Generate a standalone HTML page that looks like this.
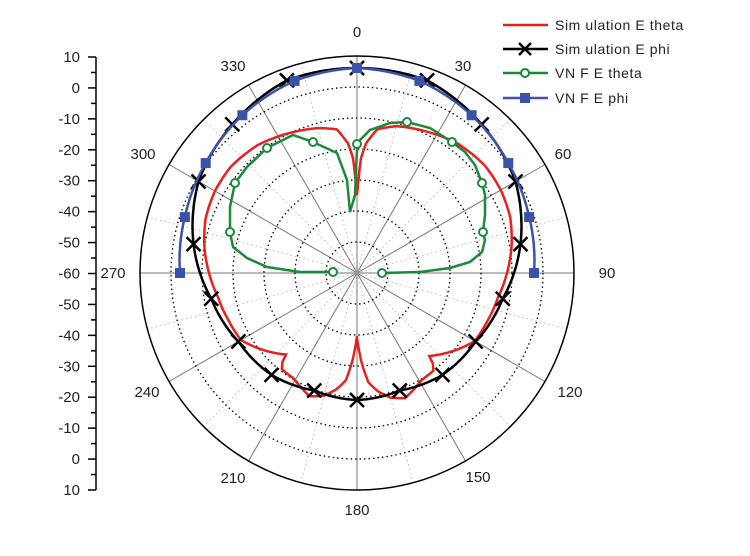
<!DOCTYPE html>
<html><head><meta charset="utf-8"><style>
html,body{margin:0;padding:0;background:#fff;}
svg{display:block;font-family:"Liberation Sans",sans-serif;}
</style></head><body>
<svg id="s" width="750" height="556" viewBox="0 0 750 556" xmlns="http://www.w3.org/2000/svg">
<g id="grid"></g>
<g id="axis" stroke="#000" stroke-width="1.5"></g>
<g id="labels" font-size="15" fill="#222"></g>
<g id="curves"></g>
<g font-size="14" fill="#222" letter-spacing="0.6">
<line x1="503" y1="25" x2="548" y2="25" stroke="#e82020" stroke-width="2.5"/>
<text x="555" y="30">Sim ulation E theta</text>
<line x1="503" y1="49" x2="548" y2="49" stroke="#000" stroke-width="2.5"/>
<path d="M519,43 L531,55 M531,43 L519,55" stroke="#000" stroke-width="2.5"/>
<text x="555" y="54">Sim ulation E phi</text>
<line x1="503" y1="73" x2="548" y2="73" stroke="#1a8a3a" stroke-width="2.5"/>
<circle cx="525" cy="73" r="4" fill="#fff" stroke="#1a8a3a" stroke-width="2"/>
<text x="555" y="78">VN F  E theta</text>
<line x1="503" y1="98" x2="548" y2="98" stroke="#3a52a8" stroke-width="2.5"/>
<rect x="520" y="93" width="10" height="10" fill="#3a52a8"/>
<text x="555" y="103">VN F  E phi</text>
</g>
</svg>
<script>
var NS="http://www.w3.org/2000/svg",cx=357,cy=273,R=217,st=R/7;
function el(p,t,a){var e=document.createElementNS(NS,t);for(var k in a)e.setAttribute(k,a[k]);p.appendChild(e);return e;}
function P(a,r){var t=a*Math.PI/180;return [cx+r*Math.sin(t),cy-r*Math.cos(t)];}
var g=document.getElementById('grid');
for(var a=0;a<360;a+=15){var p=P(a,R);
 if(a%30==0)el(g,'line',{x1:cx,y1:cy,x2:p[0],y2:p[1],stroke:'#777','stroke-width':1});
 else el(g,'line',{x1:cx,y1:cy,x2:p[0],y2:p[1],stroke:'#bbb','stroke-width':1,'stroke-dasharray':'1.5,3'});}
for(var k=1;k<7;k++)el(g,'circle',{cx:cx,cy:cy,r:k*st,fill:'none',stroke:'#000','stroke-width':1.3,'stroke-dasharray':'1.5,3'});
el(g,'circle',{cx:cx,cy:cy,r:R,fill:'none',stroke:'#000','stroke-width':1.5});
var ax=document.getElementById('axis'),lb=document.getElementById('labels');
el(ax,'line',{x1:96,y1:57,x2:96,y2:490});
var vals=[10,0,-10,-20,-30,-40,-50,-60,-50,-40,-30,-20,-10,0,10];
for(var i=0;i<15;i++){var y=57+i*st*(14/14)*1;y=57+i*(433/14);
 el(ax,'line',{x1:88,y1:y,x2:96,y2:y});
 if(i<14)el(ax,'line',{x1:91,y1:y+433/28,x2:96,y2:y+433/28});
 var t=el(lb,'text',{x:80,y:y+5,'text-anchor':'end'});t.textContent=vals[i];}
var al=[[0,357,37],[30,463,71],[60,563,159],[90,607,278],[120,570,397],[150,478,482],[180,357,515],[210,233,483],[240,147,397],[270,113,278],[300,143,159],[330,233,71]];
al.forEach(function(q){var t=el(lb,'text',{x:q[1],y:q[2],'text-anchor':'middle'});t.textContent=q[0];});
var cv=document.getElementById('curves');
function interp(tab,a){for(var i=0;i<tab.length-1;i++){if(a>=tab[i][0]&&a<=tab[i+1][0]){var f=(a-tab[i][0])/(tab[i+1][0]-tab[i][0]);return tab[i][1]+f*(tab[i+1][1]-tab[i][1]);}}return tab[tab.length-1][1];}
function mirror(tab){var o=[];for(var i=tab.length-1;i>0;i--)o.push([-tab[i][0],tab[i][1]]);return o.concat(tab);}
function polarPath(tab,a0,a1){var d='';for(var a=a0;a<=a1;a+=0.5){var p=P(a,interp(tab,a));d+=(d?'L':'M')+p[0].toFixed(1)+','+p[1].toFixed(1);}return d;}
// red
var red=[[0,78],[1,95],[2,115],[4,130],[8,145],[15,152],[25,157],[38,164],[50,167],[60,166],[70,163],[80,157],[90,150],[100,143],[110,139],[120,136],[126,128],[139,110],[140,118],[142,124],[149,125],[159,134],[165,129],[170,120],[174,110],[177,90],[180,65]];
var redR=[];red.forEach(function(q){redR.push(q)});
var rp=polarPath(red,0,180)+polarPath(red.map(function(q){return [q[0],q[1]-(q[0]<10?0:2)]}),0,180).replace(/([\d.]+),/g,function(m,x){return (2*cx-parseFloat(x)).toFixed(1)+','}).replace(/^M/,'M');
el(cv,'path',{d:rp,fill:'none',stroke:'#e82020','stroke-width':2.5});
// black
var blk=[[0,205],[20,205],[40,194],[60,183],[80,166],[90,157],[100,148],[120,137],[140,133],[160,125],[180,127]];
var bp=polarPath(blk,0,180);
el(cv,'path',{d:bp,fill:'none',stroke:'#000','stroke-width':2.5});
el(cv,'path',{d:bp.replace(/([\d.]+),/g,function(m,x){return (2*cx-parseFloat(x)).toFixed(1)+','}),fill:'none',stroke:'#000','stroke-width':2.5});
for(var a=0;a<360;a+=20){var p=P(a,interp(blk,a<=180?a:360-a));
 el(cv,'path',{d:'M'+(p[0]-7)+','+(p[1]-7)+'L'+(p[0]+7)+','+(p[1]+7)+'M'+(p[0]+7)+','+(p[1]-7)+'L'+(p[0]-7)+','+(p[1]+7),stroke:'#000','stroke-width':2.5});}
// green
var gr='M382,273 L420,272 L450,268 L470,262 L482,252 L485,240 L483,232 L485,215 L485,195 L482,183 L475,165 L465,152 L452,142 L430,128 L407,122 L390,123 L370,130 L360,140 L357,150 L356,170 L355,195 L350,212 L347,180 L337,153 L313,142 L293,135 L267,148 L247,167 L235,183 L230,207 L230,232 L233,247 L247,258 L267,267 L300,272 L333,272';
el(cv,'path',{d:gr,fill:'none',stroke:'#1a8a3a','stroke-width':2.5});
[[382,273],[483,232],[482,183],[452,142],[407,122],[357,144],[313,142],[267,148],[235,183],[230,232],[333,272]].forEach(function(q){el(cv,'circle',{cx:q[0],cy:q[1],r:4,fill:'#fff',stroke:'#1a8a3a','stroke-width':2});});
// blue
var blu=[[0,205],[18,202],[36,195],[54,187],[72,181],[90,177]];
el(cv,'path',{d:polarPath(mirror(blu),-90,90),fill:'none',stroke:'#3a52a8','stroke-width':2.5});
for(var a=-90;a<=90;a+=18){var p=P(a,interp(mirror(blu),a));el(cv,'rect',{x:p[0]-5,y:p[1]-5,width:10,height:10,fill:'#3a52a8'});}
</script>
</body></html>
